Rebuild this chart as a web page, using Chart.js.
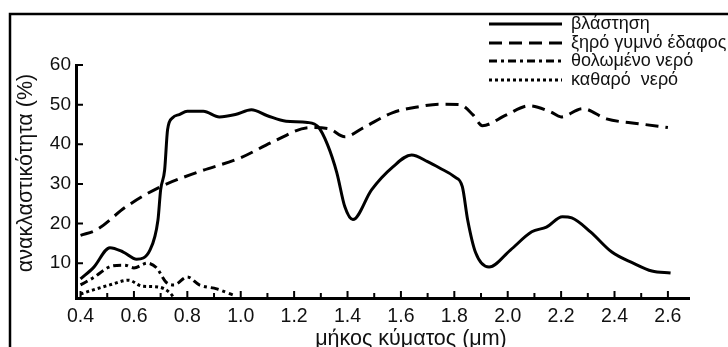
<!DOCTYPE html>
<html>
<head>
<meta charset="utf-8">
<script src="https://cdn.jsdelivr.net/npm/chart.js@4"></script>
<style>
  body { margin: 0; background: #fff; }
</style>
</head>
<body>
<canvas id="myChart" width="728" height="347"></canvas>
<script>
// values (wavelength in um, reflectance in %)
var vegWl = [0.40, 0.45, 0.51, 0.56, 0.61, 0.66, 0.69, 0.70, 0.715, 0.726, 0.745, 0.77, 0.80, 0.86, 0.92, 0.98, 1.04, 1.10, 1.17, 1.25, 1.29, 1.325, 1.36, 1.39, 1.42, 1.49, 1.57, 1.64, 1.70, 1.745, 1.80, 1.83, 1.85, 1.88, 1.93, 2.01, 2.09, 2.145, 2.205, 2.24, 2.31, 2.39, 2.47, 2.54, 2.61];
var vegRefl = [6.0, 9.0, 13.9, 12.8, 11.0, 13.3, 20.9, 28.5, 33.5, 43.7, 46.7, 47.5, 48.3, 48.3, 46.9, 47.5, 48.7, 47.2, 45.8, 45.5, 44.4, 39.9, 32.8, 24.2, 21.0, 28.5, 34.3, 37.3, 35.6, 34.0, 31.8, 29.3, 20.9, 12.6, 9.0, 13.3, 17.9, 19.1, 21.7, 21.4, 17.9, 12.8, 10.0, 8.0, 7.5];

var soilWl = [0.40, 0.46, 0.57, 0.70, 0.845, 1.0, 1.12, 1.26, 1.33, 1.39, 1.46, 1.57, 1.67, 1.745, 1.82, 1.87, 1.905, 1.995, 2.08, 2.16, 2.20, 2.28, 2.37, 2.49, 2.60];
var soilRefl = [17.0, 18.4, 24.2, 29.3, 33.1, 36.6, 40.6, 44.2, 43.9, 41.9, 44.2, 48.0, 49.5, 50.1, 50.0, 47.4, 44.7, 47.4, 49.7, 48.2, 46.9, 49.0, 46.4, 45.2, 44.2];

var turbidWl = [0.40, 0.445, 0.52, 0.565, 0.60, 0.65, 0.685, 0.72, 0.75, 0.80, 0.845, 0.91, 0.97];
var turbidRefl = [4.5, 6.2, 9.3, 9.5, 8.8, 10.0, 8.8, 5.2, 4.5, 6.5, 4.5, 3.5, 2.0];

var clearWl = [0.40, 0.445, 0.51, 0.58, 0.63, 0.69, 0.735, 0.75];
var clearRefl = [2.2, 3.2, 4.5, 5.7, 4.2, 4.0, 2.5, 1.2];

var seriesNames = ['βλάστηση', 'ξηρό γυμνό έδαφος', 'θολωμένο νερό', 'καθαρό  νερό'];
var xTicks = [0.4, 0.6, 0.8, 1.0, 1.2, 1.4, 1.6, 1.8, 2.0, 2.2, 2.4, 2.6];
var xMinorTicks = [0.5, 0.7, 0.9, 1.1, 1.3, 1.5, 1.7, 1.9, 2.1, 2.3, 2.5];
var yTicks = [10, 20, 30, 40, 50, 60];
var xTitle = 'μήκος κύματος (μm)';
var yTitle = 'ανακλαστικότητα (%)';

var FONT = "'Liberation Sans', Arial, sans-serif";

function pairs(xs, ys) {
    var out = [];
    for (var i = 0; i < xs.length; i++) {
        out.push({x: xs[i], y: ys[i]});
    }
    return out;
}

function makeSet(label, xs, ys, dash, width) {
    return {
        label: label,
        data: pairs(xs, ys),
        borderColor: '#000',
        borderWidth: width,
        borderDash: dash,
        borderCapStyle: 'butt',
        pointRadius: 0,
        fill: false,
        cubicInterpolationMode: 'monotone'
    };
}

// frame, inward tick marks, titles and legend
const extras = {
    id: 'extras',
    beforeDraw(chart) {
        const ctx = chart.ctx;
        ctx.save();
        ctx.fillStyle = '#fff';
        ctx.fillRect(0, 0, chart.width, chart.height);
        ctx.strokeStyle = '#000';
        ctx.lineWidth = 2.5;
        ctx.beginPath();
        ctx.moveTo(10, chart.height);
        ctx.lineTo(10, 14);
        ctx.lineTo(chart.width, 14);
        ctx.stroke();
        ctx.restore();
    },
    afterDraw(chart) {
        const ctx = chart.ctx;
        const x = chart.scales.x, y = chart.scales.y;
        const area = chart.chartArea;
        ctx.save();
        ctx.strokeStyle = '#000';
        ctx.lineWidth = 2;
        ctx.beginPath();
        yTicks.forEach(function (v) {
            const py = y.getPixelForValue(v);
            ctx.moveTo(area.left, py);
            ctx.lineTo(area.left + 7, py);
        });
        xTicks.forEach(function (v) {
            const px = x.getPixelForValue(v);
            ctx.moveTo(px, area.bottom);
            ctx.lineTo(px, area.bottom - 7);
        });
        xMinorTicks.forEach(function (v) {
            const px = x.getPixelForValue(v);
            ctx.moveTo(px, area.bottom);
            ctx.lineTo(px, area.bottom - 5);
        });
        ctx.stroke();

        // axis titles
        ctx.fillStyle = '#111';
        ctx.font = '21.5px ' + FONT;
        ctx.textAlign = 'center';
        ctx.textBaseline = 'middle';
        ctx.fillText(xTitle, 411, 339);
        ctx.translate(26, 173);
        ctx.rotate(-Math.PI / 2);
        ctx.fillText(yTitle, 0, 0);
        ctx.setTransform(1, 0, 0, 1, 0, 0);

        // legend
        const rows = [24, 43, 61, 80];
        ctx.font = '18px ' + FONT;
        ctx.textAlign = 'left';
        chart.data.datasets.forEach(function (ds, i) {
            ctx.beginPath();
            ctx.lineWidth = ds.borderWidth;
            ctx.setLineDash(ds.borderDash || []);
            ctx.moveTo(489, rows[i]);
            ctx.lineTo(562, rows[i]);
            ctx.stroke();
            ctx.setLineDash([]);
            ctx.fillText(ds.label, 571, rows[i]);
        });
        ctx.restore();
    }
};

const ctx = document.getElementById('myChart').getContext('2d');
const myChart = new Chart(ctx, {
    type: 'line',
    data: {
        datasets: [
            makeSet(seriesNames[0], vegWl, vegRefl, [], 3),
            makeSet(seriesNames[1], soilWl, soilRefl, [13, 7], 3),
            makeSet(seriesNames[2], turbidWl, turbidRefl, [8, 4, 3, 4], 3),
            makeSet(seriesNames[3], clearWl, clearRefl, [3, 3], 3)
        ]
    },
    options: {
        responsive: false,
        animation: false,
        devicePixelRatio: 1,
        layout: {
            padding: {left: 10, top: 65, right: 39, bottom: 0}
        },
        plugins: {
            legend: {display: false},
            tooltip: {enabled: false}
        },
        scales: {
            x: {
                type: 'linear',
                min: 0.383,
                max: 2.679,
                afterFit: function (s) { s.height = 49; },
                afterBuildTicks: function (s) {
                    s.ticks = xTicks.map(function (v) { return {value: v}; });
                },
                grid: {display: false, drawTicks: false},
                border: {display: true, color: '#000', width: 3},
                ticks: {
                    padding: 7,
                    color: '#111',
                    font: {family: FONT, size: 19.5},
                    maxRotation: 0,
                    callback: function (v) { return v.toFixed(1); }
                }
            },
            y: {
                min: 1.2,
                max: 60,
                afterFit: function (s) { s.width = 66; },
                afterBuildTicks: function (s) {
                    s.ticks = yTicks.map(function (v) { return {value: v}; });
                },
                grid: {display: false, drawTicks: false},
                border: {display: true, color: '#000', width: 3},
                ticks: {
                    padding: 5,
                    color: '#111',
                    font: {family: FONT, size: 19}
                }
            }
        }
    },
    plugins: [extras]
});
</script>
</body>
</html>
